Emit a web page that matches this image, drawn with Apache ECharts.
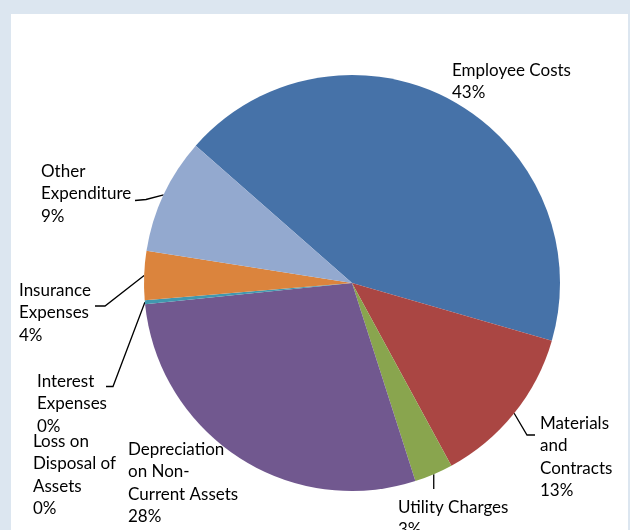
<!DOCTYPE html>
<html>
<head>
<meta charset="utf-8">
<script src="https://cdn.jsdelivr.net/npm/echarts@6/dist/echarts.min.js"></script>
<style>
  html, body { margin: 0; padding: 0; background: #dce6f0; }
  #chart { width: 630px; height: 530px; }
</style>
</head>
<body>
<div id="chart"></div>
<script>
// Expenditure breakdown (share of total, %)
const categories = [
  'Employee Costs',
  'Materials\nand\nContracts',
  'Utility Charges',
  'Depreciation\non Non-\nCurrent Assets',
  'Loss on\nDisposal of\nAssets',
  'Interest\nExpenses',
  'Insurance\nExpenses',
  'Other\nExpenditure'
];
const values = [43.0, 12.6, 3.0, 28.3, 0.0, 0.3, 3.8, 9.0];
const colors = ['#4672a8', '#aa4643', '#89a54e', '#71588f', '#4198af', '#4198af', '#db843d', '#93a9cf'];

// Label placement (top-left of each text block) and leader-line bends
const labelPlaces = [
  { x: 452, y: 59 },
  { x: 540, y: 412, bend: [[527, 435], [535, 435]] },
  { x: 398, y: 496, drop: 489 },
  { x: 128, y: 438 },
  { x: 33,  y: 430 },
  { x: 37,  y: 370, bend: [[113, 386.5], [106, 386.5]] },
  { x: 19,  y: 279, bend: [[105, 306], [95, 306]] },
  { x: 41,  y: 160, bend: [[146, 199.5], [135, 200.5]] }
];

const chart = echarts.init(document.getElementById('chart'), null, { renderer: 'canvas' });

const data = categories.map((name, i) => {
  const hasLine = !!(labelPlaces[i].bend || labelPlaces[i].drop);
  return {
    name: name,
    value: values[i],
    itemStyle: { color: colors[i] },
    labelLine: { show: hasLine }
  };
});

chart.setOption({
  backgroundColor: '#dce6f0',
  animation: false,
  graphic: [{
    type: 'rect',
    shape: { x: 11, y: 14, width: 617, height: 530 },
    style: { fill: '#ffffff' },
    z: -10,
    silent: true
  }],
  series: [{
    type: 'pie',
    center: [352, 283],
    radius: 208,
    startAngle: 138.7,
    clockwise: true,
    avoidLabelOverlap: false,
    minShowLabelAngle: 0,
    itemStyle: { borderWidth: 0 },
    label: {
      show: true,
      position: 'outside',
      formatter: p => p.name + '\n' + Math.round(p.percent) + '%',
      fontFamily: 'Lato',
      fontSize: 17,
      lineHeight: 22.5,
      color: '#000000',
      align: 'left'
    },
    labelLine: {
      show: true,
      length: 10,
      length2: 10,
      smooth: false,
      lineStyle: { color: '#000000', width: 1.3 }
    },
    labelLayout: function (params) {
      const place = labelPlaces[params.dataIndex];
      const out = { x: place.x, y: place.y, align: 'left', verticalAlign: 'top' };
      const anchor = params.labelLinePoints && params.labelLinePoints[0];
      if (anchor) {
        if (place.bend) {
          out.labelLinePoints = [anchor.slice(), place.bend[0], place.bend[1]];
        } else if (place.drop) {
          out.labelLinePoints = [anchor.slice(), [anchor[0], (anchor[1] + place.drop) / 2], [anchor[0], place.drop]];
        }
      }
      return out;
    },
    data: data
  }]
});
</script>
</body>
</html>
